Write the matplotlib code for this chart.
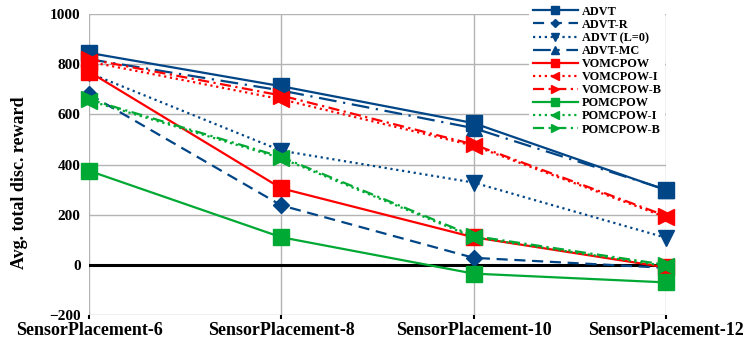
import numpy as np
import matplotlib
matplotlib.use('Agg')
import matplotlib.pyplot as plt

categories = ['SensorPlacement-6', 'SensorPlacement-8', 'SensorPlacement-10', 'SensorPlacement-12']

advt = [845, 712, 565, 298]
advt_r = [680, 237, 28, -12]
advt_l0 = [765, 455, 328, 108]
advt_mc = [820, 695, 545, 300]
vomcpow = [770, 305, 110, -10]
vomcpow_i = [810, 660, 475, 190]
vomcpow_b = [820, 675, 480, 195]
pomcpow = [375, 110, -35, -70]
pomcpow_i = [655, 425, 110, -5]
pomcpow_b = [660, 430, 115, 0]

BLUE = '#004586'
RED = '#ff0000'
GREEN = '#00a933'

plt.rcParams['font.family'] = ['Liberation Serif', 'DejaVu Serif']
plt.rcParams['font.weight'] = 'bold'

fig = plt.figure(figsize=(7.44, 3.43), dpi=100)
ax = fig.add_axes([0.1196, 0.0816, 0.7755, 0.8776])

x = np.arange(len(categories))
series = [
    ('ADVT', advt, BLUE, '-', 's', 11),
    ('ADVT-R', advt_r, BLUE, (0, (5, 3)), 'D', 8),
    ('ADVT (L=0)', advt_l0, BLUE, ':', 'v', 11),
    ('ADVT-MC', advt_mc, BLUE, (0, (8, 3, 1, 3)), '^', 11),
    ('VOMCPOW', vomcpow, RED, '-', 's', 11),
    ('VOMCPOW-I', vomcpow_i, RED, ':', '<', 11),
    ('VOMCPOW-B', vomcpow_b, RED, (0, (5, 2, 1, 2)), '>', 11),
    ('POMCPOW', pomcpow, GREEN, '-', 's', 11),
    ('POMCPOW-I', pomcpow_i, GREEN, ':', '<', 11),
    ('POMCPOW-B', pomcpow_b, GREEN, (0, (5, 2, 1, 2)), '>', 11),
]

handles = []
for name, vals, col, ls, mk, ms in series:
    h, = ax.plot(x, vals, color=col, linestyle=ls, linewidth=1.6, marker=mk,
                 markersize=ms, label=name, clip_on=False, zorder=3)
    handles.append(h)

ax.axhline(0, color='black', linewidth=2.2, zorder=2)

ax.set_xlim(0, 3)
ax.set_ylim(-200, 1000)
ax.set_yticks(np.arange(-200, 1001, 200))
ax.set_xticks(x)
ax.set_xticklabels(categories, fontsize=13, fontweight='bold')
ax.tick_params(axis='y', labelsize=11, length=0, pad=6)
ax.tick_params(axis='x', length=3, width=1.5, color='black', pad=2)
ax.grid(True, color='#b3b3b3', linewidth=1)
for s in ax.spines.values():
    s.set_visible(False)
ax.set_ylabel('Avg. total disc. reward', fontsize=13, fontweight='bold')
ax.yaxis.set_label_coords(-0.105, 0.44)

fig.legend(handles=handles, loc='upper left', bbox_to_anchor=(0.703, 1.012),
           frameon=True, edgecolor='none', facecolor='white', framealpha=1,
           fontsize=8.8, labelspacing=0.09, handlelength=3.7, handletextpad=0.3,
           borderpad=0.3, markerscale=0.55)

fig.savefig('out.png', dpi=100)
